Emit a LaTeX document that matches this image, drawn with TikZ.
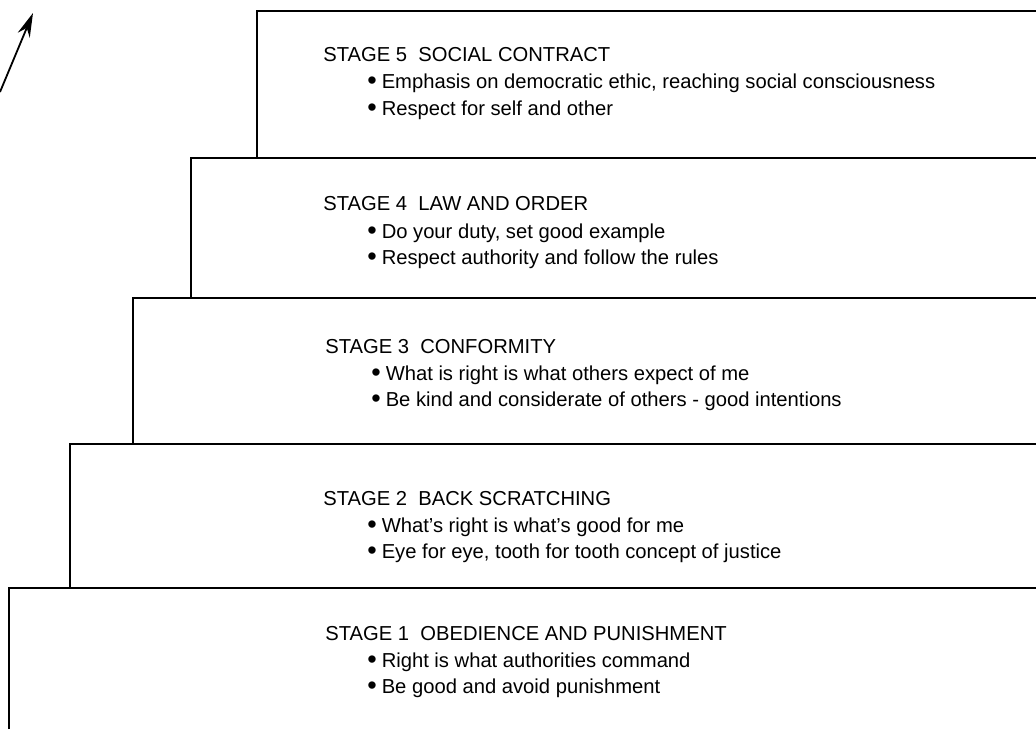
\documentclass[tikz,border=0pt]{standalone}
\usepackage{fontspec}
\setmainfont{Liberation Sans}
\usetikzlibrary{arrows.meta}

\newcommand{\stagedot}{{\fontsize{27}{24}\selectfont\raisebox{-1pt}{•}}\hspace{5pt}}

\begin{document}
\begin{tikzpicture}[x=1pt,y=-1pt,line width=2.6pt,
  head/.style={anchor=base west,inner sep=0pt,font=\fontsize{20.2}{24}\selectfont},
  item/.style={anchor=base west,inner sep=0pt,font=\fontsize{20.2}{24}\selectfont}]
\useasboundingbox (0,0) rectangle (1036,729);

% the steps
\draw (9,729) coordinate (a_1) -- (9,588) coordinate (t_1) -- (1036,588);
\draw (70,588) coordinate (a_2) -- (70,444) coordinate (t_2) -- (1036,444);
\draw (133,444) coordinate (a_3) -- (133,298) coordinate (t_3) -- (1036,298);
\draw (191,298) coordinate (a_4) -- (191,158) coordinate (t_4) -- (1036,158);
\draw (257,158) coordinate (a_5) -- (257,11) coordinate (t_5) -- (1036,11);

% arrow up the stairs
\coordinate (up_1) at (0,92);
\coordinate (up_2) at (33,13);
\draw[line width=1.8pt,-{Stealth[length=24pt,width=13pt]}] (up_1) -- (up_2);

% stage 5
\node[head] (s5) at (322,61) {STAGE 5~~SOCIAL CONTRACT};
\node[item] (s5a) at (366,88) {\stagedot Emphasis on democratic ethic, reaching social consciousness};
\node[item] (s5b) at (366,115) {\stagedot Respect for self and other};

% stage 4
\node[head] (s4) at (322,210) {STAGE 4~~LAW AND ORDER};
\node[item] (s4a) at (366,238) {\stagedot Do your duty, set good example};
\node[item] (s4b) at (366,264) {\stagedot Respect authority and follow the rules};

% stage 3
\node[head] (s3) at (324,353) {STAGE 3~~CONFORMITY};
\node[item] (s3a) at (370,380) {\stagedot What is right is what others expect of me};
\node[item] (s3b) at (370,406) {\stagedot Be kind and considerate of others - good intentions};

% stage 2
\node[head] (s2) at (322,505) {STAGE 2~~BACK SCRATCHING};
\node[item] (s2a) at (366,532) {\stagedot What's right is what's good for me};
\node[item] (s2b) at (366,558) {\stagedot Eye for eye, tooth for tooth concept of justice};

% stage 1
\node[head] (s1) at (324,640) {STAGE 1~~OBEDIENCE AND PUNISHMENT};
\node[item] (s1a) at (366,667) {\stagedot Right is what authorities command};
\node[item] (s1b) at (366,693) {\stagedot Be good and avoid punishment};

\end{tikzpicture}
\end{document}
